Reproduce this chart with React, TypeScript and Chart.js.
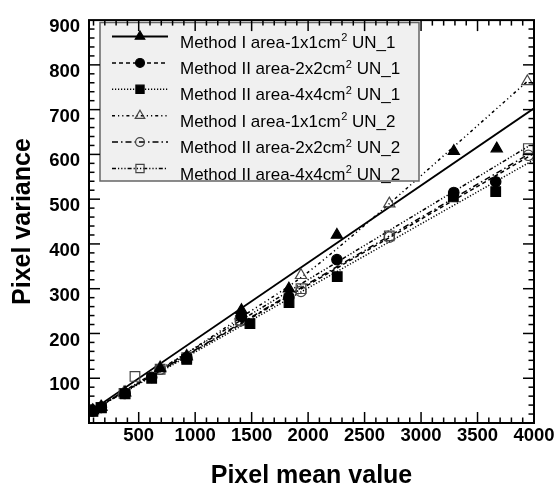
import { useEffect, useRef } from "react";
import { Chart, registerables } from "chart.js";

Chart.register(...registerables);

// ---- axis ticks ----
const xTickValues = [500, 1000, 1500, 2000, 2500, 3000, 3500, 4000];
const yTickValues = [100, 200, 300, 400, 500, 600, 700, 800, 900];

// ---- legend labels ("^2" = superscript 2) ----
const seriesLabels = [
  "Method I area-1x1cm^2 UN_1",
  "Method II area-2x2cm^2 UN_1",
  "Method II area-4x4cm^2 UN_1",
  "Method I area-1x1cm^2 UN_2",
  "Method II area-2x2cm^2 UN_2",
  "Method II area-4x4cm^2 UN_2",
];

// ---- measured points ----
const aX = [95, 170, 380, 690, 925, 1410, 1830, 2255, 3290, 3670];
const aY = [28, 36, 68, 122, 148, 252, 300, 420, 607, 613];
const bX = [95, 170, 380, 615, 925, 1410, 1830, 2255, 3290, 3661];
const bY = [27, 35, 66, 102, 146, 238, 282, 365, 515, 539];
const cX = [95, 170, 380, 615, 925, 1485, 1831, 2258, 3286, 3661];
const cY = [26, 34, 65, 100, 142, 222, 269, 327, 505, 517];
const dX = [90, 165, 370, 690, 925, 1400, 1937, 2719, 3941];
const dY = [28, 36, 68, 124, 150, 240, 330, 490, 763];
const eX = [90, 165, 370, 690, 925, 1400, 1937, 2719, 3950];
const eY = [27, 35, 66, 120, 146, 228, 294, 415, 598];
const fX = [90, 165, 370, 467, 690, 925, 1400, 1937, 2719, 3950];
const fY = [27, 35, 66, 104, 120, 146, 230, 300, 418, 613];

// ---- fitted curves ----
const fitAX = [60, 4000];
const fitAY = [24, 703];
const fitBX = [60, 4000];
const fitBY = [24, 602];
const fitCX = [60, 4000];
const fitCY = [24, 588];
const fitDX = [60, 700, 1400, 1937, 2400, 2719, 3941];
const fitDY = [22, 120, 235, 325, 420, 490, 763];
const fitEX = [60, 3950];
const fitEY = [24, 600];
const fitFX = [60, 3950];
const fitFY = [24, 618];

const FONT = "'Liberation Sans', Arial, Helvetica, sans-serif";

const zip = (xs: number[], ys: number[]) => xs.map((x, i) => ({ x, y: ys[i] }));

type Style = {
  dash: number[];
  width: number;
  marker: "triangle" | "circle" | "rect";
  filled: boolean;
  radius: number;
};

const styles: Style[] = [
  { dash: [], width: 1.8, marker: "triangle", filled: true, radius: 6.5 },
  { dash: [4, 3], width: 1.5, marker: "circle", filled: true, radius: 5.2 },
  { dash: [1.2, 1.8], width: 1.5, marker: "rect", filled: true, radius: 6.8 },
  { dash: [3, 3, 1.2, 3, 1.2, 3], width: 1.5, marker: "triangle", filled: false, radius: 6.5 },
  { dash: [6, 3, 1.5, 3], width: 1.5, marker: "circle", filled: false, radius: 5.2 },
  { dash: [4, 2, 1.2, 2, 1.2, 2, 1.2, 2], width: 1.5, marker: "rect", filled: false, radius: 6.8 },
];

const markerX = [aX, bX, cX, dX, eX, fX];
const markerY = [aY, bY, cY, dY, eY, fY];
const fitXs = [fitAX, fitBX, fitCX, fitDX, fitEX, fitFX];
const fitYs = [fitAY, fitBY, fitCY, fitDY, fitEY, fitFY];

function drawMarker(ctx: CanvasRenderingContext2D, s: Style, x: number, y: number) {
  ctx.save();
  ctx.setLineDash([]);
  ctx.lineWidth = 1.2;
  ctx.strokeStyle = s.filled ? "#000" : "#444";
  ctx.fillStyle = "#000";
  ctx.beginPath();
  const r = s.radius;
  if (s.marker === "triangle") {
    ctx.moveTo(x, y - r);
    ctx.lineTo(x + r * 0.866, y + r * 0.5);
    ctx.lineTo(x - r * 0.866, y + r * 0.5);
    ctx.closePath();
  } else if (s.marker === "circle") {
    ctx.arc(x, y, r, 0, Math.PI * 2);
  } else {
    const h = r * Math.SQRT1_2;
    ctx.rect(x - h, y - h, 2 * h, 2 * h);
  }
  if (s.filled) ctx.fill();
  ctx.stroke();
  ctx.restore();
}

const legendPlugin = {
  id: "rootLegend",
  afterDatasetsDraw(chart: any) {
    const ctx: CanvasRenderingContext2D = chart.ctx;
    ctx.save();
    const bx = 100, by = 22.5, bw = 319, bh = 158.5;
    ctx.fillStyle = "#f0f0f0";
    ctx.fillRect(bx, by, bw, bh);
    ctx.strokeStyle = "#666";
    ctx.lineWidth = 1.5;
    ctx.strokeRect(bx, by, bw, bh);
    seriesLabels.forEach((label, i) => {
      const s = styles[i];
      const sy = 36.5 + i * 26.4;
      ctx.save();
      ctx.strokeStyle = "#000";
      ctx.lineWidth = s.width;
      ctx.setLineDash(s.dash);
      ctx.beginPath();
      ctx.moveTo(112, sy);
      ctx.lineTo(168, sy);
      ctx.stroke();
      ctx.restore();
      drawMarker(ctx, { ...s, radius: s.radius * 0.85 }, 140, sy);
      const [pre, post] = label.split("^2");
      const base = 47.6 + i * 26.4;
      ctx.fillStyle = "#000";
      ctx.textBaseline = "alphabetic";
      ctx.textAlign = "left";
      ctx.font = `17px ${FONT}`;
      let tx = 180;
      ctx.fillText(pre, tx, base);
      tx += ctx.measureText(pre).width;
      ctx.font = `11px ${FONT}`;
      ctx.fillText("2", tx + 0.5, base - 6.5);
      tx += ctx.measureText("2").width + 0.5;
      ctx.font = `17px ${FONT}`;
      ctx.fillText(post, tx, base);
    });
    ctx.restore();
  },
};

const framePlugin = {
  id: "rootFrame",
  afterDraw(chart: any) {
    const ctx: CanvasRenderingContext2D = chart.ctx;
    const a = chart.chartArea;
    const xs = chart.scales.x;
    const ys = chart.scales.y;
    ctx.save();
    ctx.strokeStyle = "#000";
    ctx.setLineDash([]);
    ctx.lineWidth = 1.5;
    const seg = (x1: number, y1: number, x2: number, y2: number) => {
      ctx.beginPath();
      ctx.moveTo(x1, y1);
      ctx.lineTo(x2, y2);
      ctx.stroke();
    };
    for (let v = 100; v < xs.max; v += 100) {
      if (v <= xs.min) continue;
      const px = xs.getPixelForValue(v);
      const major = v % 500 === 0;
      seg(px, a.bottom, px, a.bottom - (major ? 11 : 5.5));
      seg(px, a.top, px, a.top + (major ? 11 : 5.5));
    }
    for (let v = 20; v < ys.max; v += 20) {
      if (v <= ys.min) continue;
      const py = ys.getPixelForValue(v);
      const major = v % 100 === 0;
      seg(a.left, py, a.left + (major ? 11 : 5.5), py);
      seg(a.right, py, a.right - (major ? 11 : 5.5), py);
    }
    ctx.lineWidth = 2;
    ctx.strokeRect(a.left, a.top, a.right - a.left, a.bottom - a.top);
    ctx.restore();
  },
};

export default function App() {
  const ref = useRef<HTMLCanvasElement | null>(null);
  useEffect(() => {
    if (!ref.current) return;
    const datasets: any[] = [];
    styles.forEach((s, i) => {
      datasets.push({
        label: seriesLabels[i] + " points",
        data: zip(markerX[i], markerY[i]),
        showLine: false,
        pointStyle: s.marker,
        pointRadius: s.radius,
        pointBorderWidth: 1.2,
        pointBackgroundColor: s.filled ? "#000" : "rgba(0,0,0,0)",
        pointBorderColor: s.filled ? "#000" : "#444",
      });
    });
    styles.forEach((s, i) => {
      datasets.push({
        label: seriesLabels[i] + " fit",
        data: zip(fitXs[i], fitYs[i]),
        showLine: true,
        pointRadius: 0,
        borderColor: "#000",
        borderWidth: s.width,
        borderDash: s.dash,
        cubicInterpolationMode: "monotone",
        fill: false,
      });
    });
    const chart = new Chart(ref.current, {
      type: "scatter",
      data: { datasets },
      plugins: [legendPlugin, framePlugin],
      options: {
        animation: false,
        responsive: false,
        devicePixelRatio: 1,
        layout: { padding: { top: 13, right: 23, left: 0, bottom: 0 } },
        plugins: { legend: { display: false }, tooltip: { enabled: false } },
        scales: {
          x: {
            type: "linear",
            min: 60,
            max: 4000,
            grid: { display: false, drawTicks: false },
            border: { display: false },
            afterBuildTicks: (sc: any) => {
              sc.ticks = xTickValues.map((v) => ({ value: v }));
            },
            afterFit: (sc: any) => {
              sc.height = 68;
            },
            ticks: {
              color: "#000",
              padding: 2,
              maxRotation: 0,
              autoSkip: false,
              callback: (v: any) => String(v),
              font: { family: FONT, size: 18.5, weight: "bold" },
            },
            title: {
              display: true,
              text: "Pixel mean value",
              color: "#000",
              padding: { top: 2, bottom: 0 },
              font: { family: FONT, size: 25, weight: "bold" },
            },
          },
          y: {
            type: "linear",
            min: 0,
            max: 900,
            grid: { display: false, drawTicks: false },
            border: { display: false },
            afterBuildTicks: (sc: any) => {
              sc.ticks = yTickValues.map((v) => ({ value: v }));
            },
            afterFit: (sc: any) => {
              sc.width = 89;
            },
            ticks: {
              color: "#000",
              padding: 9,
              labelOffset: 7,
              autoSkip: false,
              callback: (v: any) => String(v),
              font: { family: FONT, size: 18.5, weight: "bold" },
            },
            title: {
              display: true,
              text: "Pixel variance",
              color: "#000",
              padding: { top: 8, bottom: 0 },
              font: { family: FONT, size: 25, weight: "bold" },
            },
          },
        },
      } as any,
    });
    return () => chart.destroy();
  }, []);
  return (
    <div style={{ position: "absolute", left: 0, top: 0, width: 557, height: 491, background: "#fff" }}>
      <canvas ref={ref} width={557} height={491} style={{ display: "block", width: 557, height: 491 }} />
    </div>
  );
}
